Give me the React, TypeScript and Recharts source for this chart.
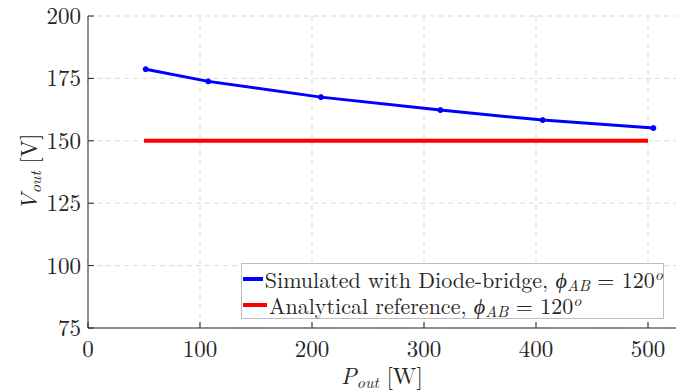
import { LineChart, Line, XAxis, YAxis, CartesianGrid } from 'recharts';

const simPower = [51.5, 107.4, 208, 314.6, 406, 504.8];
const simVoltage = [178.7, 173.8, 167.5, 162.3, 158.3, 155.1];
const refPower = [50, 500];
const refVoltage = [150, 150];
const xTicks = [0, 100, 200, 300, 400, 500];
const yTicks = [75, 100, 125, 150, 175, 200];

const simData = simPower.map((p, i) => ({ p, v: simVoltage[i] }));
const refData = refPower.map((p, i) => ({ p, v: refVoltage[i] }));

const FONT = 'Latin Modern Roman';
const AXIS = '#262626';
const BLUE = '#0000ff';
const RED = '#ff0000';
const TICK = 6;

const BottomTick = ({ x, y, payload }: any) => (
  <g>
    <line x1={x} x2={x} y1={y} y2={y - TICK} stroke={AXIS} />
    <text x={x} y={y + 29} textAnchor="middle" fontFamily={FONT} fontSize={23} fill={AXIS}>
      {payload.value}
    </text>
  </g>
);

const LeftTick = ({ x, y, payload }: any) => (
  <g>
    <line x1={x} x2={x + TICK} y1={y} y2={y} stroke={AXIS} />
    <text x={x - 7} y={y + 8} textAnchor="end" fontFamily={FONT} fontSize={23} fill={AXIS}>
      {payload.value}
    </text>
  </g>
);

const TopTick = ({ x, y }: any) => <line x1={x} x2={x} y1={y} y2={y + TICK} stroke={AXIS} />;
const RightTick = ({ x, y }: any) => <line x1={x} x2={x - TICK} y1={y} y2={y} stroke={AXIS} />;

const YLabel = ({ viewBox }: any) => {
  const cx = 37;
  const cy = viewBox.y + viewBox.height / 2;
  return (
    <text
      transform={`rotate(-90 ${cx} ${cy})`}
      x={cx}
      y={cy}
      textAnchor="middle"
      fontFamily={FONT}
      fontSize={23}
      fill={AXIS}
    >
      <tspan fontStyle="italic">V</tspan>
      <tspan fontStyle="italic" fontSize={16} dy={4}>out</tspan>
      <tspan dy={-4}>{' [V]'}</tspan>
    </text>
  );
};

const XLabel = ({ viewBox }: any) => {
  const cx = viewBox.x + viewBox.width / 2;
  return (
    <text x={cx} y={384} textAnchor="middle" fontFamily={FONT} fontSize={23} fill={AXIS}>
      <tspan fontStyle="italic">P</tspan>
      <tspan fontStyle="italic" fontSize={16} dy={4}>out</tspan>
      <tspan dy={-4}>{' [W]'}</tspan>
    </text>
  );
};

const Phi = () => (
  <>
    <i>ϕ</i>
    <sub style={{ fontSize: 16, fontStyle: 'italic', verticalAlign: -3 }}>AB</sub>
    {' = 120'}
    <sup style={{ fontSize: 16, fontStyle: 'italic', verticalAlign: 8 }}>o</sup>
  </>
);

const legendRows = [
  { color: BLUE, width: 4, dot: true, text: 'Simulated with Diode-bridge, ' },
  { color: RED, width: 4, dot: false, text: 'Analytical reference, ' },
];

export default function App() {
  return (
    <div style={{ position: 'absolute', left: 0, top: 0, width: 690, height: 392, background: '#fff' }}>
      <LineChart width={690} height={392} data={simData} margin={{ top: 16, right: 14, bottom: 0, left: 0 }}>
        <CartesianGrid
          xAxisId="b"
          yAxisId="l"
          stroke="#d9d9d9"
          strokeDasharray="5 4"
          horizontalValues={yTicks}
          verticalValues={xTicks}
        />
        <XAxis
          xAxisId="b"
          dataKey="p"
          type="number"
          domain={[0, 525]}
          ticks={xTicks}
          height={64}
          tickSize={0}
          tickMargin={0}
          tickLine={false}
          stroke={AXIS}
          tick={<BottomTick />}
          label={{ content: <XLabel /> } as any}
        />
        <XAxis
          xAxisId="t"
          orientation="top"
          dataKey="p"
          type="number"
          domain={[0, 525]}
          ticks={xTicks}
          height={0}
          tickSize={0}
          tickMargin={0}
          tickLine={false}
          stroke={AXIS}
          tick={<TopTick />}
        />
        <YAxis
          yAxisId="l"
          type="number"
          domain={[75, 200]}
          ticks={yTicks}
          width={88}
          tickSize={0}
          tickMargin={0}
          tickLine={false}
          stroke={AXIS}
          tick={<LeftTick />}
          label={{ content: <YLabel /> } as any}
        />
        <YAxis
          yAxisId="r"
          orientation="right"
          type="number"
          domain={[75, 200]}
          ticks={yTicks}
          width={0}
          tickSize={0}
          tickMargin={0}
          tickLine={false}
          stroke={AXIS}
          tick={<RightTick />}
        />
        <Line
          xAxisId="b"
          yAxisId="l"
          data={refData}
          dataKey="v"
          stroke={RED}
          strokeWidth={4}
          dot={false}
          isAnimationActive={false}
        />
        <Line
          xAxisId="b"
          yAxisId="l"
          data={simData}
          dataKey="v"
          stroke={BLUE}
          strokeWidth={3}
          dot={{ r: 2.5, fill: BLUE, stroke: BLUE, strokeWidth: 1 }}
          isAnimationActive={false}
        />
      </LineChart>
      <div
        style={{
          position: 'absolute',
          left: 241,
          top: 263,
          width: 421,
          height: 54,
          background: '#fff',
          border: '1px solid #bdbdbd',
          fontFamily: FONT,
          fontSize: 22,
          color: AXIS,
          boxSizing: 'content-box',
        }}
      >
        {legendRows.map((r, i) => (
          <div key={i} style={{ display: 'flex', alignItems: 'center', height: 26, lineHeight: '26px', marginTop: i === 0 ? 2 : 0 }}>
            <span
              style={{
                position: 'relative',
                display: 'inline-block',
                width: 24,
                height: r.width,
                background: r.color,
                marginLeft: 1,
                marginRight: 2,
              }}
            />
            <span style={{ whiteSpace: 'nowrap' }}>
              {r.text}
              <Phi />
            </span>
          </div>
        ))}
      </div>
    </div>
  );
}
